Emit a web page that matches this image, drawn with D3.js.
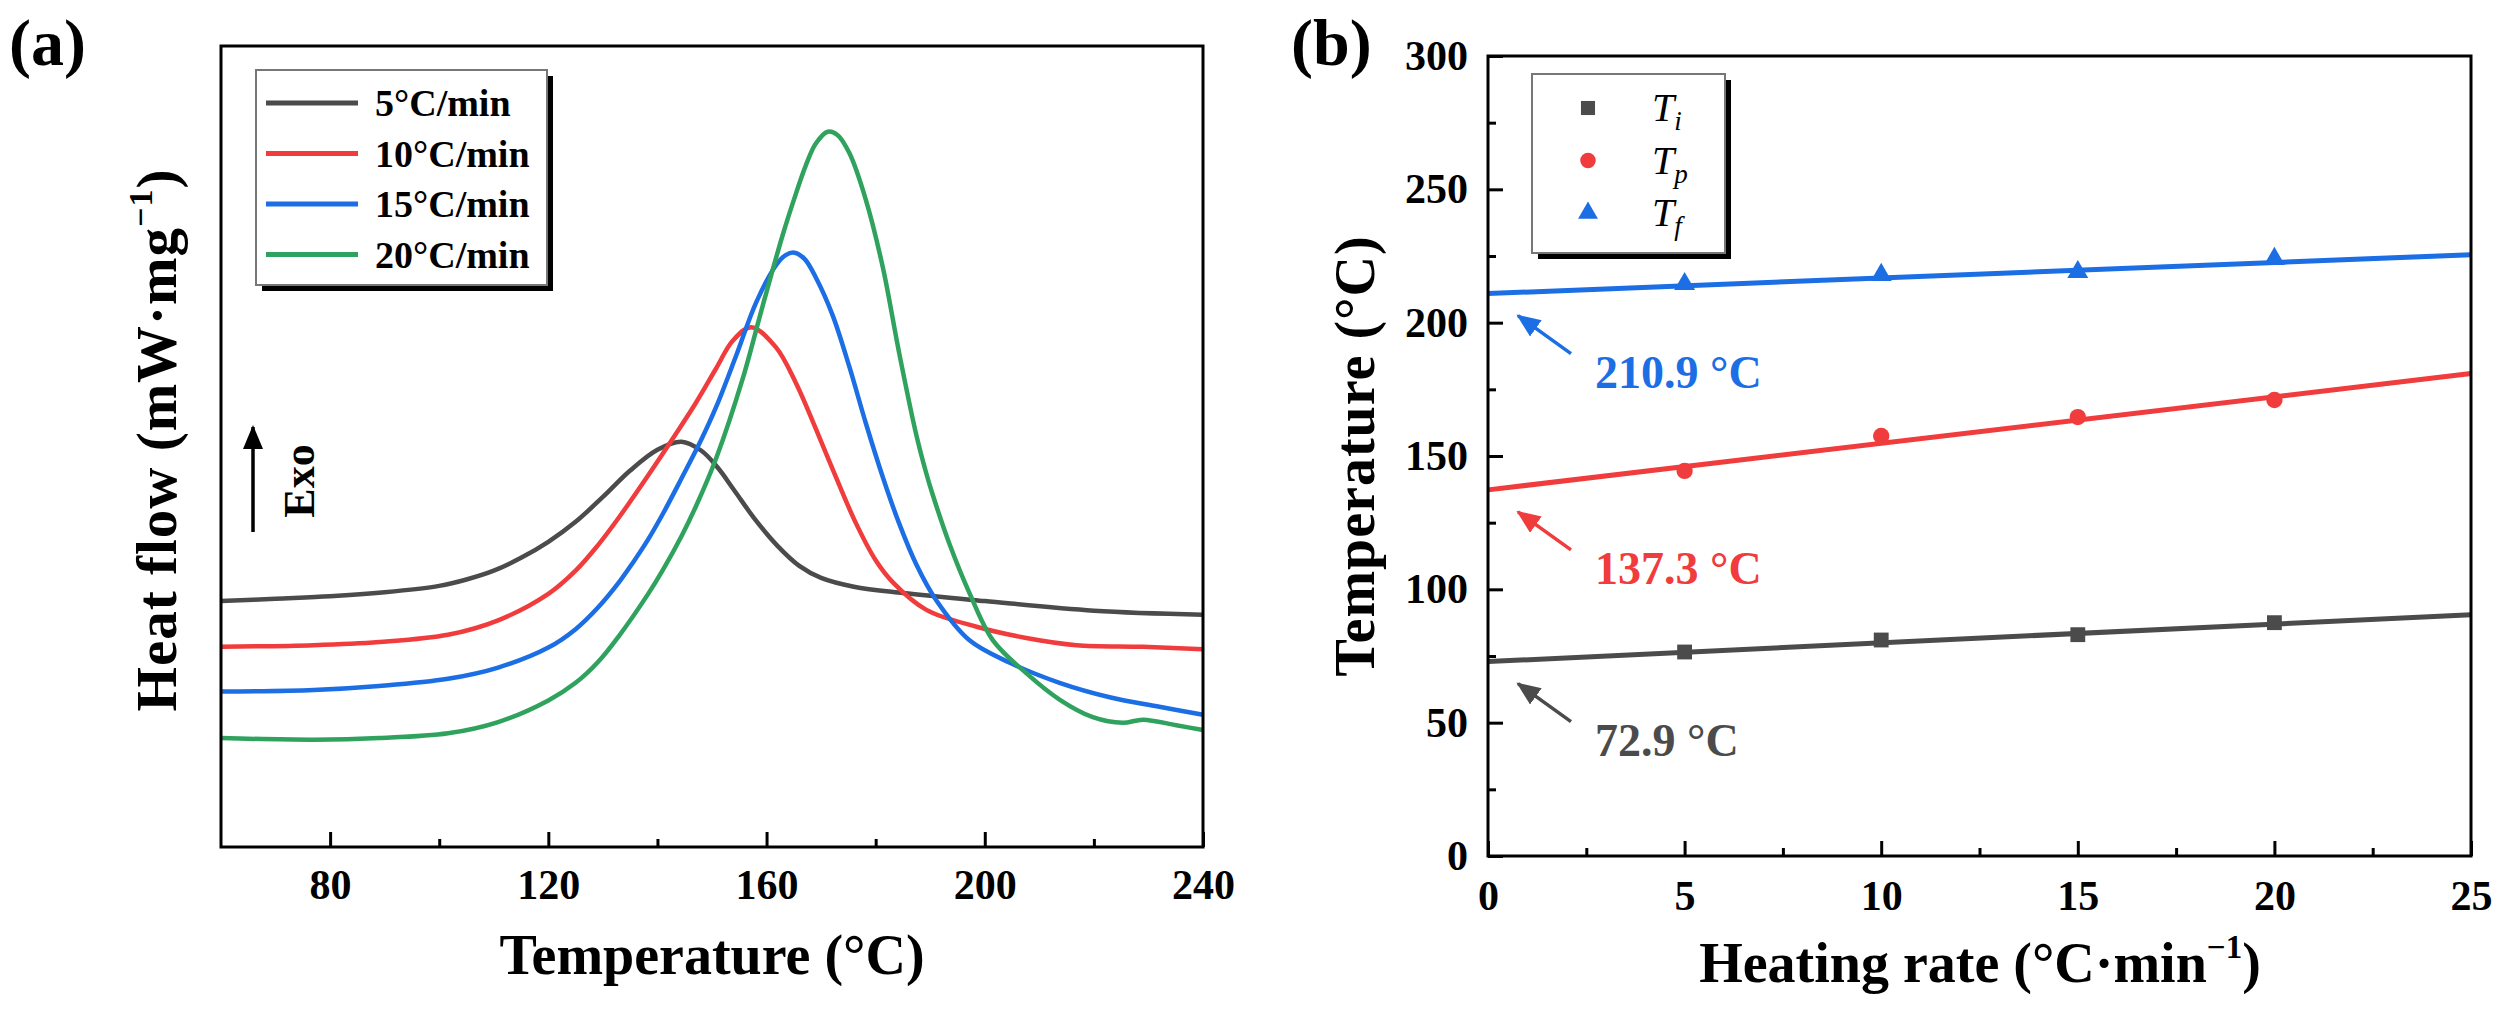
<!DOCTYPE html>
<html>
<head>
<meta charset="utf-8">
<script src="https://cdn.jsdelivr.net/npm/d3@7"></script>
<style>
  body { margin: 0; background: #fff; }
  svg { display: block; }
</style>
</head>
<body>
<svg id="fig" width="2507" height="1009"></svg>
<script>
// ---- (a) DSC curves : heat flow in arbitrary units (0 = frame bottom, 100 = frame top)
var rateNames  = ["5°C/min", "10°C/min", "15°C/min", "20°C/min"];
var rateColors = ["#4b4b4b", "#f03c3c", "#1c6ee4", "#2fa25e"];

var temp5  = [60, 70, 80, 90, 100, 105, 110, 115, 120, 125, 130, 135, 140, 144.4, 148, 151, 154, 158, 162, 166, 170, 176, 185, 200, 220, 240];
var flow5  = [30.7, 31.0, 31.3, 31.8, 32.6, 33.4, 34.5, 36.1, 38.1, 40.6, 43.7, 47.0, 49.6, 50.6, 49.5, 47.4, 44.6, 40.8, 37.6, 35.1, 33.6, 32.5, 31.7, 30.7, 29.5, 29.0];

var temp10 = [60, 77, 89, 101.6, 110.8, 120, 125, 129, 133, 138.5, 143.3, 147, 150.8, 153.8, 157.2, 161.7, 165.4, 169.1, 172.7, 176.4, 180, 183.2, 189.3, 198.5, 207.6, 216.8, 229, 240];
var flow10 = [25.0, 25.2, 25.6, 26.5, 28.3, 31.6, 34.5, 37.6, 41.2, 46.6, 51.5, 55.4, 59.8, 63.2, 64.9, 62.4, 57.9, 52.1, 46.2, 40.4, 35.8, 33.0, 29.6, 27.5, 26.1, 25.2, 25.0, 24.7];

var temp15 = [60, 77, 89, 101.6, 110.8, 120, 125, 129.1, 133, 135.5, 138.3, 141, 144.4, 148, 150.8, 154.4, 158.1, 161.7, 163.5, 165.1, 167, 169.1, 172.1, 175.2, 178.2, 181.3, 184.3, 187.5, 191.1, 197.2, 204.6, 213.7, 222.9, 232, 240];
var flow15 = [19.4, 19.6, 20.1, 21.0, 22.4, 24.9, 27.2, 29.9, 33.1, 35.5, 38.4, 41.6, 46.0, 50.8, 55.0, 61.3, 68.0, 72.6, 73.9, 74.2, 73.4, 71.0, 66.4, 59.9, 52.9, 46.2, 40.4, 35.2, 30.8, 25.8, 23.0, 20.5, 18.7, 17.5, 16.5];

var temp20 = [60, 77, 89, 101.6, 110.8, 120, 125, 129.1, 133, 138.3, 141, 144.4, 147.1, 150.8, 155.6, 159.3, 163, 165.4, 167.2, 169, 171.2, 173, 175.2, 178.2, 181.3, 184.3, 187.4, 189.3, 190.4, 193.6, 197.2, 201.5, 207.6, 213.7, 219.8, 225.3, 229, 235.1, 240];
var flow20 = [13.6, 13.4, 13.6, 14.2, 15.6, 18.3, 20.5, 23.1, 26.4, 31.6, 34.6, 38.8, 42.6, 48.6, 58.4, 67.6, 76.5, 81.6, 85.1, 87.8, 89.3, 88.9, 86.6, 80.8, 72.4, 61.7, 51.6, 46.6, 44.1, 37.7, 31.7, 25.8, 21.7, 18.4, 16.2, 15.5, 15.9, 15.2, 14.6];

var aMajorTicks = [80, 120, 160, 200, 240];
var aMinorTicks = [100, 140, 180, 220];

// ---- (b) characteristic temperatures vs heating rate
var heatingRates = [5, 10, 15, 20];
var tempTi = [76.5, 81.0, 83.0, 87.5];
var tempTp = [144.4, 157.5, 164.6, 171.0];
var tempTf = [214.5, 217.9, 219.0, 223.9];
var fitRates = [0, 25];
var fitStart = [72.9, 137.3, 210.9];   // intercepts, Ti Tp Tf
var fitEnd   = [90.5, 180.9, 225.5];
var interceptLabels = ["72.9 °C", "137.3 °C", "210.9 °C"];
var tSubs = ["i", "p", "f"];
var bColors = ["#4b4b4b", "#f03c3c", "#1c6ee4"];

var bXMajor = [0, 5, 10, 15, 20, 25];
var bXMinor = [2.5, 7.5, 12.5, 17.5, 22.5];
var bYMajor = [0, 50, 100, 150, 200, 250, 300];
var bYMinor = [25, 75, 125, 175, 225, 275];

var serif = "'Liberation Serif','Times New Roman',Times,serif";
var svg = d3.select("#fig");
var defs = svg.append("defs");

function arrowHead(id, color) {
  defs.append("marker")
    .attr("id", id)
    .attr("viewBox", "0 0 12 10")
    .attr("refX", 11).attr("refY", 5)
    .attr("markerWidth", 24).attr("markerHeight", 20)
    .attr("markerUnits", "userSpaceOnUse")
    .attr("orient", "auto")
    .append("path")
    .attr("d", "M0,0L12,5L0,10z")
    .attr("fill", color);
}

function styleAxis(g, size) {
  g.attr("font-size", size).attr("font-family", serif).attr("font-weight", "bold");
  g.select(".domain").remove();
  g.selectAll(".tick line").attr("stroke", "#000").attr("stroke-width", 3);
  g.selectAll(".tick text").attr("fill", "#000");
}

//////////
// PANEL (a)
//////////
var xa = d3.scaleLinear().domain([60, 240]).range([221, 1203]);
var ya = d3.scaleLinear().domain([0, 100]).range([847, 46]);

var dscTemps = [temp5, temp10, temp15, temp20];
var dscFlows = [flow5, flow10, flow15, flow20];

var dscLine = d3.line()
  .x(function(d) { return xa(d[0]); })
  .y(function(d) { return ya(d[1]); })
  .curve(d3.curveCatmullRom.alpha(0.5));

svg.append("g").selectAll("path")
  .data(rateNames)
  .join("path")
  .attr("fill", "none")
  .attr("stroke", function(d, i) { return rateColors[i]; })
  .attr("stroke-width", 4.5)
  .attr("stroke-linejoin", "round")
  .attr("d", function(d, i) { return dscLine(d3.zip(dscTemps[i], dscFlows[i])); });

// ticks point inward
svg.append("g")
  .attr("transform", "translate(0,847)")
  .call(d3.axisBottom(xa).tickValues(aMajorTicks).tickSize(-15).tickPadding(22))
  .call(styleAxis, 42);
svg.append("g")
  .attr("transform", "translate(0,847)")
  .call(d3.axisBottom(xa).tickValues(aMinorTicks).tickSize(-8).tickFormat(""))
  .call(styleAxis, 42);

svg.append("rect")
  .attr("x", xa(60)).attr("y", ya(100))
  .attr("width", xa(240) - xa(60)).attr("height", ya(0) - ya(100))
  .attr("fill", "none").attr("stroke", "#000").attr("stroke-width", 3);

// legend (a)
var legA = svg.append("g");
legA.append("rect").attr("x", 262).attr("y", 76).attr("width", 291).attr("height", 215).attr("fill", "#000");
legA.append("rect").attr("x", 256).attr("y", 70).attr("width", 291).attr("height", 215)
  .attr("fill", "#fff").attr("stroke", "#777").attr("stroke-width", 2);
legA.selectAll("line")
  .data(rateNames)
  .join("line")
  .attr("x1", 266).attr("x2", 358)
  .attr("y1", function(d, i) { return 103 + i * 50.5; })
  .attr("y2", function(d, i) { return 103 + i * 50.5; })
  .attr("stroke", function(d, i) { return rateColors[i]; })
  .attr("stroke-width", 5);
legA.selectAll("text")
  .data(rateNames)
  .join("text")
  .attr("x", 375)
  .attr("y", function(d, i) { return 116 + i * 50.5; })
  .attr("font-family", serif).attr("font-weight", "bold").attr("font-size", 38)
  .text(function(d) { return d; });

// Exo arrow
arrowHead("ah-exo", "#000");
svg.append("line")
  .attr("x1", 253).attr("y1", 532).attr("x2", 253).attr("y2", 427)
  .attr("stroke", "#000").attr("stroke-width", 3.5)
  .attr("marker-end", "url(#ah-exo)");
svg.append("text")
  .attr("transform", "translate(314,481) rotate(-90)")
  .attr("text-anchor", "middle")
  .attr("font-family", serif).attr("font-weight", "bold").attr("font-size", 44)
  .text("Exo");

// titles (a)
svg.append("text")
  .attr("x", 712).attr("y", 974)
  .attr("text-anchor", "middle")
  .attr("font-family", serif).attr("font-weight", "bold").attr("font-size", 56)
  .text("Temperature (°C)");

var yTitleA = svg.append("text")
  .attr("transform", "translate(176,440) rotate(-90)")
  .attr("text-anchor", "middle")
  .attr("font-family", serif).attr("font-weight", "bold").attr("font-size", 57)
  .attr("letter-spacing", 1);
yTitleA.append("tspan").text("Heat flow (mW·mg");
yTitleA.append("tspan").attr("font-size", 34).attr("dy", -24).text("−1");
yTitleA.append("tspan").attr("dy", 24).text(")");

svg.append("text")
  .attr("x", 9).attr("y", 65)
  .attr("font-family", serif).attr("font-weight", "bold").attr("font-size", 66)
  .text("(a)");

//////////
// PANEL (b)
//////////
var xb = d3.scaleLinear().domain([0, 25]).range([1488, 2471]);
var yb = d3.scaleLinear().domain([0, 300]).range([856, 56]);

svg.append("g")
  .attr("transform", "translate(0,856)")
  .call(d3.axisBottom(xb).tickValues(bXMajor).tickSize(-15).tickPadding(24))
  .call(styleAxis, 42);
svg.append("g")
  .attr("transform", "translate(0,856)")
  .call(d3.axisBottom(xb).tickValues(bXMinor).tickSize(-8).tickFormat(""))
  .call(styleAxis, 42);
svg.append("g")
  .attr("transform", "translate(1488,0)")
  .call(d3.axisLeft(yb).tickValues(bYMajor).tickSize(-15).tickPadding(20))
  .call(styleAxis, 42);
svg.append("g")
  .attr("transform", "translate(1488,0)")
  .call(d3.axisLeft(yb).tickValues(bYMinor).tickSize(-8).tickFormat(""))
  .call(styleAxis, 42);

var bPoints = [tempTi, tempTp, tempTf];
var bSymbols = [d3.symbolSquare, d3.symbolCircle, d3.symbolTriangle];
var bSizes = [220, 210, 190];

var fitLine = d3.line()
  .x(function(d) { return xb(d[0]); })
  .y(function(d) { return yb(d[1]); });

bPoints.forEach(function(vals, s) {
  svg.append("path")
    .attr("fill", "none")
    .attr("stroke", bColors[s])
    .attr("stroke-width", 5)
    .attr("d", fitLine(d3.zip(fitRates, [fitStart[s], fitEnd[s]])));

  svg.append("g").selectAll("path")
    .data(vals)
    .join("path")
    .attr("transform", function(d, i) { return "translate(" + xb(heatingRates[i]) + "," + yb(d) + ")"; })
    .attr("d", d3.symbol(bSymbols[s]).size(bSizes[s]))
    .attr("fill", bColors[s]);

  // intercept annotation
  arrowHead("ah-b" + s, bColors[s]);
  var tipX = xb(0) + 30, tipY = yb(fitStart[s]) + 22;
  svg.append("line")
    .attr("x1", tipX + 53).attr("y1", tipY + 38)
    .attr("x2", tipX).attr("y2", tipY)
    .attr("stroke", bColors[s]).attr("stroke-width", 3.5)
    .attr("marker-end", "url(#ah-b" + s + ")");
  svg.append("text")
    .attr("x", xb(0) + 107).attr("y", tipY + 72)
    .attr("fill", bColors[s])
    .attr("font-family", serif).attr("font-weight", "bold").attr("font-size", 46)
    .text(interceptLabels[s]);
});

svg.append("rect")
  .attr("x", xb(0)).attr("y", yb(300))
  .attr("width", xb(25) - xb(0)).attr("height", yb(0) - yb(300))
  .attr("fill", "none").attr("stroke", "#000").attr("stroke-width", 3);

// legend (b)
var legB = svg.append("g");
legB.append("rect").attr("x", 1538).attr("y", 80).attr("width", 193).attr("height", 179).attr("fill", "#000");
legB.append("rect").attr("x", 1532).attr("y", 74).attr("width", 193).attr("height", 179)
  .attr("fill", "#fff").attr("stroke", "#777").attr("stroke-width", 2);
legB.selectAll("path")
  .data(tSubs)
  .join("path")
  .attr("transform", function(d, i) { return "translate(1588," + (108 + i * 52.5) + ")"; })
  .attr("d", function(d, i) { return d3.symbol(bSymbols[i]).size(bSizes[i] * 0.9)(); })
  .attr("fill", function(d, i) { return bColors[i]; });
var legBText = legB.selectAll("text")
  .data(tSubs)
  .join("text")
  .attr("x", 1652)
  .attr("y", function(d, i) { return 121 + i * 52.5; })
  .attr("font-family", serif).attr("font-style", "italic").attr("font-size", 40);
legBText.append("tspan").text("T");
legBText.append("tspan").attr("font-size", 27).attr("dy", 9).text(function(d) { return d; });

// titles (b)
var xTitleB = svg.append("text")
  .attr("x", 1980).attr("y", 982)
  .attr("text-anchor", "middle")
  .attr("font-family", serif).attr("font-weight", "bold").attr("font-size", 56);
xTitleB.append("tspan").text("Heating rate (°C·min");
xTitleB.append("tspan").attr("font-size", 33).attr("dy", -24).text("−1");
xTitleB.append("tspan").attr("dy", 24).text(")");

svg.append("text")
  .attr("transform", "translate(1374,456) rotate(-90)")
  .attr("text-anchor", "middle")
  .attr("font-family", serif).attr("font-weight", "bold").attr("font-size", 56)
  .attr("letter-spacing", 1)
  .text("Temperature (°C)");

svg.append("text")
  .attr("x", 1291).attr("y", 65)
  .attr("font-family", serif).attr("font-weight", "bold").attr("font-size", 66)
  .text("(b)");
</script>
</body>
</html>
